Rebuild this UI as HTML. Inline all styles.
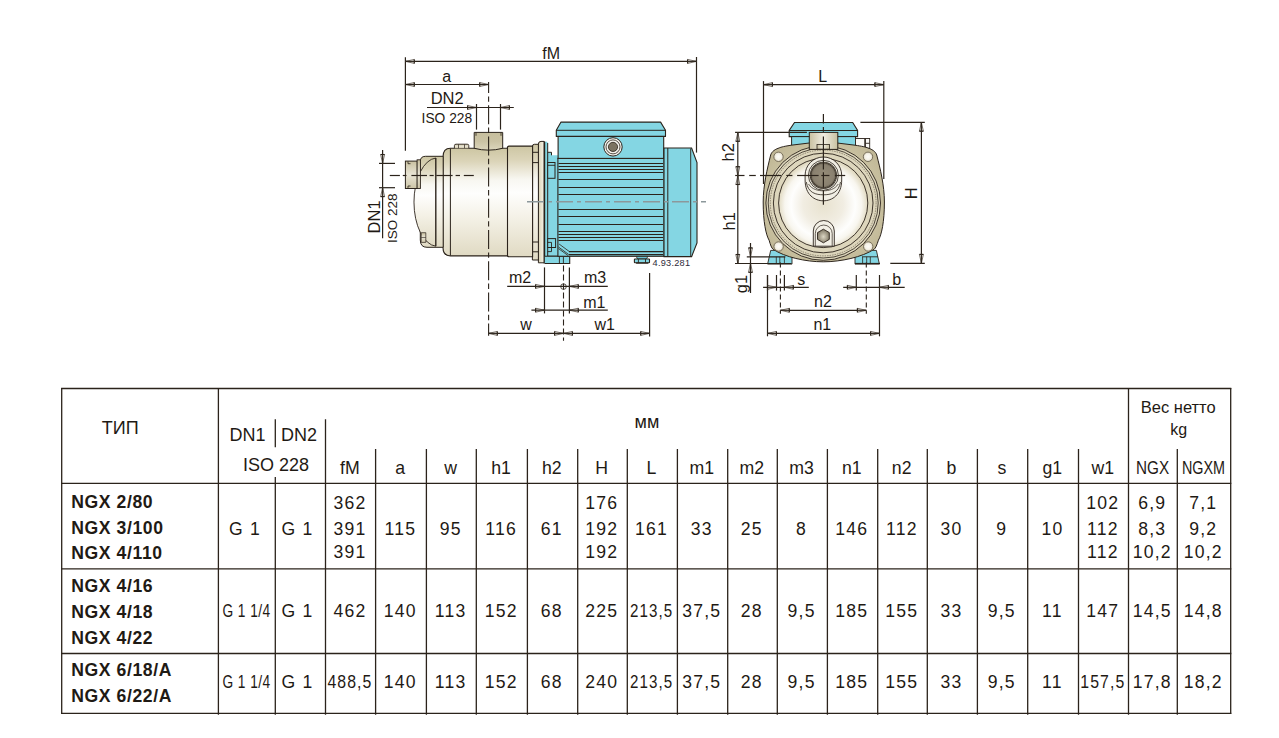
<!DOCTYPE html>
<html><head><meta charset="utf-8"><style>
html,body{margin:0;padding:0;background:#fff;}
body{width:1279px;height:738px;overflow:hidden;position:relative;}
svg{position:absolute;left:0;top:0;}
text{font-family:"Liberation Sans", sans-serif;}
</style></head><body>
<svg width="1279" height="738" viewBox="0 0 1279 738">
<defs>
<linearGradient id="bg" x1="0" y1="0" x2="0" y2="1">
<stop offset="0" stop-color="#cdc6a3"/><stop offset="0.12" stop-color="#dbd4b8"/><stop offset="0.3" stop-color="#f8f7f1"/><stop offset="0.42" stop-color="#fefefd"/>
<stop offset="0.65" stop-color="#f4f1e6"/><stop offset="1" stop-color="#e0dac3"/></linearGradient>
<linearGradient id="bgs" x1="0" y1="0" x2="0" y2="1">
<stop offset="0" stop-color="#c9c1a0"/><stop offset="0.5" stop-color="#e9e5d6"/><stop offset="1" stop-color="#cdc5a6"/></linearGradient>
<linearGradient id="bgh" x1="0" y1="0" x2="1" y2="0">
<stop offset="0" stop-color="#c8c0a0"/><stop offset="0.5" stop-color="#f0ede2"/><stop offset="1" stop-color="#c8c0a0"/></linearGradient>
<radialGradient id="disc" cx="0.5" cy="0.52" r="0.5">
<stop offset="0" stop-color="#e8e2cf"/><stop offset="0.45" stop-color="#f1ede2"/><stop offset="0.72" stop-color="#fefefd"/><stop offset="0.86" stop-color="#f8f6ef"/><stop offset="1" stop-color="#e2dbc3"/></radialGradient>
<radialGradient id="port" cx="0.5" cy="0.5" r="0.5">
<stop offset="0" stop-color="#958c78"/><stop offset="0.8" stop-color="#8a8170"/><stop offset="1" stop-color="#6a6252"/></radialGradient>
<radialGradient id="nut" cx="0.5" cy="0.55" r="0.55">
<stop offset="0" stop-color="#dcd6c4"/><stop offset="1" stop-color="#7d7562"/></radialGradient>
<radialGradient id="hole" cx="0.5" cy="0.5" r="0.5">
<stop offset="0" stop-color="#fdfcf8"/><stop offset="0.6" stop-color="#f5f2e8"/><stop offset="1" stop-color="#ddd6c0"/></radialGradient>
<linearGradient id="r2" x1="0" y1="0" x2="1" y2="0">
<stop offset="0" stop-color="#d9d2b6"/><stop offset="1" stop-color="#f7f4e8"/></linearGradient>
<linearGradient id="opg" x1="0" y1="0" x2="0" y2="1">
<stop offset="0" stop-color="#c6be9d"/><stop offset="0.5" stop-color="#cbc3a4"/><stop offset="1" stop-color="#dcd6bd"/></linearGradient>
<radialGradient id="flg" cx="0.5" cy="0.5" r="0.6">
<stop offset="0.7" stop-color="#cbc3a3"/><stop offset="1" stop-color="#bfb694"/></radialGradient>
</defs>
<path d="M544.7 263.5 V143 Q544.7 141.4 546.2 141.4 Q547.7 141.4 547.7 143 V152.3 H551.5 V155.3 H558.5 V263.5 Z" fill="#84d6e3"/>
<path d="M547.7 143 V256.2 H569.7 M547.7 152.3 H551.5 V155.3" fill="none" stroke="#2b231b" stroke-width="1"/>
<rect x="547.7" y="162.5" width="7.3" height="15.8" fill="#84d6e3" stroke="#2b231b" stroke-width="1"/>
<line x1="547.7" y1="165.3" x2="555" y2="165.3" stroke="#2b231b" stroke-width="0.9"/>
<rect x="547.7" y="238.6" width="7.9" height="8.9" fill="#84d6e3" stroke="#2b231b" stroke-width="1"/>
<path d="M547.7 242.4 H551.5 V251.6 H547.7" fill="none" stroke="#2b231b" stroke-width="0.9"/>
<rect x="543.6" y="141.4" width="1.6" height="122.1" fill="#2b231b"/>
<path d="M544.7 256.2 H569.7 V263.5 H544.7" fill="#84d6e3" stroke="#2b231b" stroke-width="1.1"/>
<line x1="559.4" y1="256.2" x2="559.4" y2="263.5" stroke="#2b231b" stroke-width="0.9"/>
<line x1="563.4" y1="256.2" x2="563.4" y2="263.5" stroke="#2b231b" stroke-width="0.9"/>
<rect x="557.9" y="158.4" width="106.2" height="97.9" fill="#84d6e3" stroke="#2b231b" stroke-width="1.1"/>
<line x1="558.5" y1="163.5" x2="663.2" y2="163.5" stroke="#2b231b" stroke-width="1.2"/>
<line x1="558.5" y1="166.5" x2="663.2" y2="166.5" stroke="#2b231b" stroke-width="1.2"/>
<line x1="558.5" y1="169.5" x2="663.2" y2="169.5" stroke="#2b231b" stroke-width="1.2"/>
<line x1="558.5" y1="172.5" x2="663.2" y2="172.5" stroke="#2b231b" stroke-width="1.2"/>
<line x1="558.5" y1="179.5" x2="663.2" y2="179.5" stroke="#2b231b" stroke-width="1.2"/>
<line x1="558.5" y1="187.5" x2="663.2" y2="187.5" stroke="#2b231b" stroke-width="1.2"/>
<line x1="558.5" y1="194.5" x2="663.2" y2="194.5" stroke="#2b231b" stroke-width="1.2"/>
<line x1="558.5" y1="209.5" x2="663.2" y2="209.5" stroke="#2b231b" stroke-width="1.2"/>
<line x1="558.5" y1="216.5" x2="663.2" y2="216.5" stroke="#2b231b" stroke-width="1.2"/>
<line x1="558.5" y1="224.5" x2="663.2" y2="224.5" stroke="#2b231b" stroke-width="1.2"/>
<line x1="558.5" y1="231.5" x2="663.2" y2="231.5" stroke="#2b231b" stroke-width="1.2"/>
<line x1="558.5" y1="234.5" x2="663.2" y2="234.5" stroke="#2b231b" stroke-width="1.2"/>
<line x1="558.5" y1="237.5" x2="663.2" y2="237.5" stroke="#2b231b" stroke-width="1.2"/>
<line x1="558.5" y1="240.5" x2="663.2" y2="240.5" stroke="#2b231b" stroke-width="1.2"/>
<line x1="569" y1="251.6" x2="663.2" y2="251.6" stroke="#2b231b" stroke-width="1.2"/>
<line x1="569" y1="254.6" x2="663.2" y2="254.6" stroke="#2b231b" stroke-width="1.2"/>
<path d="M559.1 244 L569.4 251.6 M558.5 247 L568.8 254.6 M558.5 248.6 L568.3 255.7" stroke="#2b231b" stroke-width="0.8" fill="none"/>
<rect x="558.1" y="136.4" width="105.6" height="22" fill="#84d6e3" stroke="#2b231b" stroke-width="1.1"/>
<path d="M561 122.1 H660.6 L665.5 130.3 V136.4 H556.3 V130.3 Z" fill="#84d6e3" stroke="#2b231b" stroke-width="1.1" stroke-linejoin="round"/>
<line x1="556.3" y1="130.3" x2="665.5" y2="130.3" stroke="#2b231b" stroke-width="1.0"/>
<circle cx="613" cy="146.9" r="9.2" fill="#f4f2ec" stroke="#2b231b" stroke-width="1"/>
<circle cx="613" cy="146.9" r="7" fill="#f4f2ec" stroke="#2b231b" stroke-width="0.8"/>
<circle cx="613" cy="146.9" r="4.6" fill="#7b7361" stroke="#2b231b" stroke-width="0.8"/>
<path d="M664 148 H691.6 L697 162.5 V243 L691.6 256.6 H664 Z" fill="#84d6e3" stroke="#2b231b" stroke-width="1.1"/>
<line x1="667.8" y1="148" x2="667.8" y2="256.6" stroke="#2b231b" stroke-width="1.0"/>
<line x1="690.7" y1="148.5" x2="690.7" y2="256.2" stroke="#2b231b" stroke-width="0.9"/>
<path d="M636.3 256.4 H647.8 L646.5 259 H637.5 Z" fill="#6cc3d3" stroke="#2b231b" stroke-width="0.8"/>
<rect x="634.4" y="259" width="15.1" height="3.8" rx="0.6" fill="#84d6e3" stroke="#2b231b" stroke-width="1.1"/>
<line x1="638.4" y1="259" x2="638.4" y2="262.8" stroke="#2b231b" stroke-width="0.9"/>
<line x1="645.5" y1="259" x2="645.5" y2="262.8" stroke="#2b231b" stroke-width="0.9"/>
<rect x="636.1" y="262.5" width="12.2" height="1.2" fill="#2b231b"/>
<text x="671.4" y="266.0" text-anchor="middle" style="font-size:9.2px;letter-spacing:0.25px" fill="#2e2a3a">4.93.281</text>
<path d="M538.4 262.8 V144 Q538.4 141.4 541 141.4 H544 V262.8 Z" fill="url(#r2)" stroke="#2b231b" stroke-width="1"/>
<path d="M532.4 260 V146.4 Q532.4 144.3 534.4 144.3 H538.4 V260 Z" fill="url(#bg)" stroke="#2b231b" stroke-width="1"/>
<line x1="532.6" y1="152.3" x2="538.4" y2="152.3" stroke="#2b231b" stroke-width="1.0"/>
<line x1="532.6" y1="162.6" x2="538.4" y2="162.6" stroke="#2b231b" stroke-width="1.0"/>
<line x1="532.6" y1="242" x2="538.4" y2="242" stroke="#2b231b" stroke-width="1.0"/>
<line x1="532.6" y1="251.8" x2="538.4" y2="251.8" stroke="#2b231b" stroke-width="1.0"/>
<path d="M509 146.1 H532.6 V256.8 H509 Q507.3 256.8 507.3 254.5 V148.5 Q507.3 146.1 509 146.1 Z" fill="url(#bg)" stroke="#2b231b" stroke-width="1.1"/>
<path d="M450.4 148.3 H507.5 V255.9 H450.4 Q443 255.9 443 247.5 V157 Q443 148.3 450.4 148.3 Z" fill="url(#bg)" stroke="#2b231b" stroke-width="1.1"/>
<line x1="450.4" y1="148.6" x2="450.4" y2="255.6" stroke="#2b231b" stroke-width="1.0"/>
<path d="M474.2 132.4 H502.7 V148.3 Q488.5 152 474.2 148.3 Z" fill="url(#opg)" stroke="#2b231b" stroke-width="1"/>
<path d="M476 132.8 v3 M501 132.8 v3" stroke="#2b231b" stroke-width="0.8"/>
<path d="M454.4 148.3 V145.6 Q454.4 144.2 456 144.2 H467.2 Q468.8 144.2 468.8 145.6 V148.3" fill="url(#bgs)" stroke="#2b231b" stroke-width="0.9"/>
<line x1="458.5" y1="144.4" x2="458.5" y2="148.2" stroke="#2b231b" stroke-width="0.7"/>
<line x1="464.5" y1="144.4" x2="464.5" y2="148.2" stroke="#2b231b" stroke-width="0.7"/>
<path d="M443.2 156.3 H425.5 Q420.3 156.3 420.3 161.5 V240 Q420.3 247.3 427 247.3 H443.2 Z" fill="url(#bg)" stroke="#2b231b" stroke-width="1"/>
<path d="M435.8 158 A23.4 44.2 0 0 0 435.8 246.2 Z" fill="url(#bg)" stroke="#2b231b" stroke-width="0.9" stroke-linejoin="round"/>
<line x1="435.8" y1="158" x2="435.8" y2="246.2" stroke="#2b231b" stroke-width="1.0"/>
<path d="M421.2 232.7 h4.6 v9.7 h-4.6 z" fill="url(#bgs)" stroke="#2b231b" stroke-width="0.7"/>
<line x1="421.2" y1="237.5" x2="425.8" y2="237.5" stroke="#2b231b" stroke-width="0.6"/>
<rect x="405.4" y="161.1" width="11.9" height="27.4" fill="url(#bgs)" stroke="#2b231b" stroke-width="1"/>
<rect x="417.1" y="159.8" width="3.3" height="28.7" fill="url(#bgs)" stroke="#2b231b" stroke-width="0.9"/>
<path d="M408 161.5 v2.2 h2.5 M408 188 v-2 h2.5" stroke="#2b231b" stroke-width="0.8" fill="none"/>
<line x1="527" y1="201.8" x2="706" y2="201.8" stroke="#8c989b" stroke-width="1.6" stroke-dasharray="17 4 4 4"/>
<line x1="389.8" y1="175.5" x2="399.9" y2="175.5" stroke="#2b231b" stroke-width="1.2"/>
<line x1="402.8" y1="175.5" x2="406.5" y2="175.5" stroke="#2b231b" stroke-width="1.2"/>
<line x1="411.4" y1="175.5" x2="427" y2="175.5" stroke="#2b231b" stroke-width="1.2"/>
<line x1="429.6" y1="175.5" x2="433.7" y2="175.5" stroke="#2b231b" stroke-width="1.2"/>
<line x1="436.3" y1="175.5" x2="452.6" y2="175.5" stroke="#2b231b" stroke-width="1.2"/>
<line x1="455.6" y1="175.5" x2="460" y2="175.5" stroke="#2b231b" stroke-width="1.2"/>
<line x1="463.8" y1="175.5" x2="473.8" y2="175.5" stroke="#2b231b" stroke-width="1.2"/>
<line x1="488.6" y1="82" x2="488.6" y2="335.8" stroke="#2b231b" stroke-width="1.1" stroke-dasharray="19 3.4 5.4 3.4" stroke-dashoffset="8"/>
<line x1="405.4" y1="57.2" x2="405.4" y2="150.7" stroke="#2b231b" stroke-width="1.2"/>
<line x1="696.5" y1="57" x2="696.5" y2="152.6" stroke="#2b231b" stroke-width="1.2"/>
<line x1="405.4" y1="61.4" x2="696.5" y2="61.4" stroke="#2b231b" stroke-width="1.2"/>
<polygon points="405.4,61.4 414.3,59.4 414.3,63.4" fill="#e4e1dc" stroke="#4a4238" stroke-width="0.7" stroke-linejoin="miter"/>
<line x1="414.3" y1="59.4" x2="414.3" y2="63.4" stroke="#2b231b" stroke-width="1.1"/>
<line x1="405.4" y1="61.4" x2="414.29999999999995" y2="61.4" stroke="#2b231b" stroke-width="1.1"/>
<polygon points="696.5,61.4 687.6,59.4 687.6,63.4" fill="#e4e1dc" stroke="#4a4238" stroke-width="0.7" stroke-linejoin="miter"/>
<line x1="687.6" y1="59.4" x2="687.6" y2="63.4" stroke="#2b231b" stroke-width="1.1"/>
<line x1="696.5" y1="61.4" x2="687.6" y2="61.4" stroke="#2b231b" stroke-width="1.1"/>
<text x="551.2" y="58.5" text-anchor="middle" style="font-size:16px;letter-spacing:0px" fill="#1f1a14">fM</text>
<line x1="405.4" y1="84.5" x2="488.6" y2="84.5" stroke="#2b231b" stroke-width="1.2"/>
<polygon points="405.4,84.5 414.3,82.5 414.3,86.5" fill="#e4e1dc" stroke="#4a4238" stroke-width="0.7" stroke-linejoin="miter"/>
<line x1="414.3" y1="82.5" x2="414.3" y2="86.5" stroke="#2b231b" stroke-width="1.1"/>
<line x1="405.4" y1="84.5" x2="414.29999999999995" y2="84.5" stroke="#2b231b" stroke-width="1.1"/>
<polygon points="488.6,84.5 479.7,82.5 479.7,86.5" fill="#e4e1dc" stroke="#4a4238" stroke-width="0.7" stroke-linejoin="miter"/>
<line x1="479.7" y1="82.5" x2="479.7" y2="86.5" stroke="#2b231b" stroke-width="1.1"/>
<line x1="488.6" y1="84.5" x2="479.70000000000005" y2="84.5" stroke="#2b231b" stroke-width="1.1"/>
<text x="446.7" y="81.5" text-anchor="middle" style="font-size:16px;letter-spacing:0px" fill="#1f1a14">a</text>
<line x1="427" y1="107.5" x2="513.8" y2="107.5" stroke="#2b231b" stroke-width="1.2"/>
<polygon points="476.5,107.5 467.6,105.5 467.6,109.5" fill="#e4e1dc" stroke="#4a4238" stroke-width="0.7" stroke-linejoin="miter"/>
<line x1="467.6" y1="105.5" x2="467.6" y2="109.5" stroke="#2b231b" stroke-width="1.1"/>
<line x1="476.5" y1="107.5" x2="467.6" y2="107.5" stroke="#2b231b" stroke-width="1.1"/>
<polygon points="500.5,107.5 509.4,105.5 509.4,109.5" fill="#e4e1dc" stroke="#4a4238" stroke-width="0.7" stroke-linejoin="miter"/>
<line x1="509.4" y1="105.5" x2="509.4" y2="109.5" stroke="#2b231b" stroke-width="1.1"/>
<line x1="500.5" y1="107.5" x2="509.4" y2="107.5" stroke="#2b231b" stroke-width="1.1"/>
<line x1="476.5" y1="104" x2="476.5" y2="129.6" stroke="#2b231b" stroke-width="1.2"/>
<line x1="500.5" y1="104" x2="500.5" y2="129.6" stroke="#2b231b" stroke-width="1.2"/>
<text x="447.2" y="104.4" text-anchor="middle" style="font-size:16.5px;letter-spacing:0px" fill="#1f1a14">DN2</text>
<text x="446.9" y="123.2" text-anchor="middle" style="font-size:13.8px;letter-spacing:0px" fill="#1f1a14">ISO 228</text>
<line x1="382.6" y1="150.1" x2="382.6" y2="238.3" stroke="#2b231b" stroke-width="1.2"/>
<line x1="379" y1="163.4" x2="395" y2="163.4" stroke="#2b231b" stroke-width="1.2"/>
<line x1="379" y1="187.7" x2="395" y2="187.7" stroke="#2b231b" stroke-width="1.2"/>
<polygon points="382.6,163.4 380.6,154.5 384.6,154.5" fill="#e4e1dc" stroke="#4a4238" stroke-width="0.7" stroke-linejoin="miter"/>
<line x1="380.6" y1="154.5" x2="384.6" y2="154.5" stroke="#2b231b" stroke-width="1.1"/>
<line x1="382.6" y1="163.4" x2="382.6" y2="154.5" stroke="#2b231b" stroke-width="1.1"/>
<polygon points="382.6,187.7 380.6,196.6 384.6,196.6" fill="#e4e1dc" stroke="#4a4238" stroke-width="0.7" stroke-linejoin="miter"/>
<line x1="380.6" y1="196.6" x2="384.6" y2="196.6" stroke="#2b231b" stroke-width="1.1"/>
<line x1="382.6" y1="187.7" x2="382.6" y2="196.6" stroke="#2b231b" stroke-width="1.1"/>
<text x="379.6" y="216.9" text-anchor="middle" style="font-size:16.5px;letter-spacing:0px" fill="#1f1a14" transform="rotate(-90 379.6 216.9)">DN1</text>
<text x="397.4" y="218.3" text-anchor="middle" style="font-size:13.5px;letter-spacing:0px" fill="#1f1a14" transform="rotate(-90 397.4 218.3)">ISO 228</text>
<line x1="544.5" y1="267.4" x2="544.5" y2="313.4" stroke="#2b231b" stroke-width="1.2"/>
<line x1="569.4" y1="267.4" x2="569.4" y2="313.4" stroke="#2b231b" stroke-width="1.2"/>
<line x1="563.5" y1="265.5" x2="563.5" y2="340.8" stroke="#2b231b" stroke-width="1.1" stroke-dasharray="6 3"/>
<line x1="649.6" y1="273" x2="649.6" y2="336.6" stroke="#2b231b" stroke-width="1.2"/>
<line x1="507.2" y1="286.4" x2="607.8" y2="286.4" stroke="#2b231b" stroke-width="1.2"/>
<polygon points="544.5,286.4 535.6,284.4 535.6,288.4" fill="#e4e1dc" stroke="#4a4238" stroke-width="0.7" stroke-linejoin="miter"/>
<line x1="535.6" y1="284.4" x2="535.6" y2="288.4" stroke="#2b231b" stroke-width="1.1"/>
<line x1="544.5" y1="286.4" x2="535.6" y2="286.4" stroke="#2b231b" stroke-width="1.1"/>
<polygon points="569.4,286.4 578.3,284.4 578.3,288.4" fill="#e4e1dc" stroke="#4a4238" stroke-width="0.7" stroke-linejoin="miter"/>
<line x1="578.3" y1="284.4" x2="578.3" y2="288.4" stroke="#2b231b" stroke-width="1.1"/>
<line x1="569.4" y1="286.4" x2="578.3" y2="286.4" stroke="#2b231b" stroke-width="1.1"/>
<circle cx="563.5" cy="286.6" r="2.8" fill="none" stroke="#2b231b" stroke-width="0.8"/>
<line x1="531.4" y1="310.2" x2="607.8" y2="310.2" stroke="#2b231b" stroke-width="1.2"/>
<polygon points="544.5,310.2 535.6,308.2 535.6,312.2" fill="#e4e1dc" stroke="#4a4238" stroke-width="0.7" stroke-linejoin="miter"/>
<line x1="535.6" y1="308.2" x2="535.6" y2="312.2" stroke="#2b231b" stroke-width="1.1"/>
<line x1="544.5" y1="310.2" x2="535.6" y2="310.2" stroke="#2b231b" stroke-width="1.1"/>
<polygon points="569.4,310.2 578.3,308.2 578.3,312.2" fill="#e4e1dc" stroke="#4a4238" stroke-width="0.7" stroke-linejoin="miter"/>
<line x1="578.3" y1="308.2" x2="578.3" y2="312.2" stroke="#2b231b" stroke-width="1.1"/>
<line x1="569.4" y1="310.2" x2="578.3" y2="310.2" stroke="#2b231b" stroke-width="1.1"/>
<line x1="488.4" y1="333.4" x2="649.6" y2="333.4" stroke="#2b231b" stroke-width="1.2"/>
<polygon points="488.4,333.4 497.3,331.4 497.3,335.4" fill="#e4e1dc" stroke="#4a4238" stroke-width="0.7" stroke-linejoin="miter"/>
<line x1="497.3" y1="331.4" x2="497.3" y2="335.4" stroke="#2b231b" stroke-width="1.1"/>
<line x1="488.4" y1="333.4" x2="497.29999999999995" y2="333.4" stroke="#2b231b" stroke-width="1.1"/>
<polygon points="563.5,333.4 554.6,331.4 554.6,335.4" fill="#e4e1dc" stroke="#4a4238" stroke-width="0.7" stroke-linejoin="miter"/>
<line x1="554.6" y1="331.4" x2="554.6" y2="335.4" stroke="#2b231b" stroke-width="1.1"/>
<line x1="563.5" y1="333.4" x2="554.6" y2="333.4" stroke="#2b231b" stroke-width="1.1"/>
<polygon points="563.5,333.4 572.4,331.4 572.4,335.4" fill="#e4e1dc" stroke="#4a4238" stroke-width="0.7" stroke-linejoin="miter"/>
<line x1="572.4" y1="331.4" x2="572.4" y2="335.4" stroke="#2b231b" stroke-width="1.1"/>
<line x1="563.5" y1="333.4" x2="572.4" y2="333.4" stroke="#2b231b" stroke-width="1.1"/>
<polygon points="649.6,333.4 640.7,331.4 640.7,335.4" fill="#e4e1dc" stroke="#4a4238" stroke-width="0.7" stroke-linejoin="miter"/>
<line x1="640.7" y1="331.4" x2="640.7" y2="335.4" stroke="#2b231b" stroke-width="1.1"/>
<line x1="649.6" y1="333.4" x2="640.7" y2="333.4" stroke="#2b231b" stroke-width="1.1"/>
<text x="520" y="283.1" text-anchor="middle" style="font-size:16px;letter-spacing:0px" fill="#1f1a14">m2</text>
<text x="595" y="283.1" text-anchor="middle" style="font-size:16px;letter-spacing:0px" fill="#1f1a14">m3</text>
<text x="594.3" y="307.5" text-anchor="middle" style="font-size:16px;letter-spacing:0px" fill="#1f1a14">m1</text>
<text x="526.1" y="329.9" text-anchor="middle" style="font-size:16px;letter-spacing:0px" fill="#1f1a14">w</text>
<text x="604.8" y="329.9" text-anchor="middle" style="font-size:16px;letter-spacing:0px" fill="#1f1a14">w1</text>
<path d="M794.5 122.5 H852.7 L857.6 130.5 V136.6 H789.2 V130.5 Z" fill="#84d6e3" stroke="#2b231b" stroke-width="1.1"/>
<line x1="789.2" y1="130.5" x2="857.6" y2="130.5" stroke="#2b231b" stroke-width="1.1"/>
<rect x="791.6" y="136.6" width="63.9" height="10" fill="#84d6e3" stroke="#2b231b" stroke-width="1"/>
<rect x="855.5" y="138.5" width="14.2" height="9.9" fill="#fbfaf7" stroke="#2b231b" stroke-width="0.9"/>
<rect x="864.3" y="138.5" width="1.6" height="9.9" fill="#2b231b"/>
<line x1="865.5" y1="143.3" x2="869.7" y2="143.3" stroke="#2b231b" stroke-width="0.9"/>
<path d="M770.7 250.4 H792 V264.1 H767.6 Z" fill="#84d6e3" stroke="#2b231b" stroke-width="0.9"/>
<path d="M855 250.4 H876.4 L879.4 264.1 H855 Z" fill="#84d6e3" stroke="#2b231b" stroke-width="0.9"/>
<line x1="776.3" y1="256.8" x2="776.3" y2="263.8" stroke="#2b231b" stroke-width="0.8"/>
<line x1="779.8" y1="256.8" x2="779.8" y2="263.8" stroke="#2b231b" stroke-width="0.8"/>
<line x1="784.4" y1="256.8" x2="784.4" y2="263.8" stroke="#2b231b" stroke-width="0.8"/>
<line x1="862.6" y1="256.8" x2="862.6" y2="263.8" stroke="#2b231b" stroke-width="0.8"/>
<line x1="866.7" y1="256.8" x2="866.7" y2="263.8" stroke="#2b231b" stroke-width="0.8"/>
<line x1="870.3" y1="256.8" x2="870.3" y2="263.8" stroke="#2b231b" stroke-width="0.8"/>
<line x1="862" y1="256.8" x2="878" y2="256.8" stroke="#2b231b" stroke-width="0.9"/>
<path d="M823.2 141.3 L791.3 145.2 C785 146.2 781 147 779 148 C773 150 771 153 770.4 156.1 C767.5 168 763.2 185 763.2 202 C763.2 222 766 235 769.1 240.2 C770.5 245 771.5 248 773.2 249.4 C785 257 805 261.8 823.2 261.8 C841.4 261.8 862 257 874 249.4 C875.7 248 876.9 245 878.4 240.2 C881.5 235 884.4 222 884.4 202 C884.4 185 880 168 877 156.1 C876.4 153 874.2 150 868 148 C865.8 147 861.6 146.2 855.1 145.2 Z" fill="url(#flg)" stroke="#2b231b" stroke-width="1"/>
<circle cx="823.2" cy="203" r="57.3" fill="#ddd6bc" stroke="#2b231b" stroke-width="0.9"/>
<circle cx="823.2" cy="203" r="55" fill="none" stroke="#2b231b" stroke-width="0.8"/>
<circle cx="823.2" cy="203" r="52.9" fill="none" stroke="#5a5040" stroke-width="0.6" stroke-dasharray="1.5 1"/>
<circle cx="823.2" cy="203" r="49.8" fill="none" stroke="#2b231b" stroke-width="0.9"/>
<circle cx="823.2" cy="203" r="44.6" fill="url(#disc)" stroke="#2b231b" stroke-width="0.9"/>
<circle cx="778.5" cy="156.8" r="4.7" fill="url(#hole)" stroke="#6f6753" stroke-width="0.9"/>
<circle cx="868" cy="156.8" r="4.7" fill="url(#hole)" stroke="#6f6753" stroke-width="0.9"/>
<circle cx="778.6" cy="246.5" r="4.7" fill="url(#hole)" stroke="#6f6753" stroke-width="0.9"/>
<circle cx="868.2" cy="246.5" r="4.7" fill="url(#hole)" stroke="#6f6753" stroke-width="0.9"/>
<rect x="809.3" y="132.4" width="28.5" height="17" fill="url(#bgh)" stroke="#2b231b" stroke-width="1"/>
<rect x="817" y="144.5" width="12.5" height="4.6" fill="url(#bgh)" stroke="#2b231b" stroke-width="0.8"/>
<path d="M805.1 175.3 A18.3 18.3 0 0 1 841.7 175.3 V180 C841.7 195 832 200.8 823.4 200.8 C814.8 200.8 805.1 195 805.1 180 Z" fill="#f1eee4" stroke="#2b231b" stroke-width="0.9"/>
<path d="M806.3 182 C808 193 816 194.8 823.4 194.8 C830.8 194.8 838.8 193 840.5 182" fill="none" stroke="#2b231b" stroke-width="0.8"/>
<path d="M808.5 184 C812 189.5 818 190.8 823.4 190.8 C828.8 190.8 834.8 189.5 838.3 184" fill="none" stroke="#2b231b" stroke-width="0.7"/>
<circle cx="823.4" cy="175.3" r="15" fill="#efece2" stroke="#2b231b" stroke-width="0.8"/>
<circle cx="823.4" cy="175.3" r="12.8" fill="url(#port)" stroke="#3a332a" stroke-width="1.7"/>
<circle cx="823.4" cy="175.3" r="12.8" fill="none" stroke="#8a8070" stroke-width="0.8" stroke-dasharray="1 1"/>
<path d="M813.3 246.2 V231 A10.5 10.5 0 0 1 834.3 231 V246.2 Z" fill="#f3f0e6" stroke="#2b231b" stroke-width="0.9"/>
<path d="M815.3 246.2 V233.5 A8.45 8.45 0 0 1 832.2 233.5 V246.2" fill="none" stroke="#2b231b" stroke-width="0.7"/>
<polygon points="823.4,229.2 829.3,232.6 829.3,239.4 823.4,242.8 817.5,239.4 817.5,232.6" fill="url(#nut)" stroke="#2b231b" stroke-width="0.9"/>
<line x1="823.4" y1="114.1" x2="823.4" y2="123.6" stroke="#2b231b" stroke-width="1.2"/>
<line x1="823.4" y1="127" x2="823.4" y2="131.7" stroke="#2b231b" stroke-width="1.2"/>
<line x1="823.4" y1="136.4" x2="823.4" y2="169.5" stroke="#2b231b" stroke-width="1.2"/>
<line x1="823.4" y1="172.3" x2="823.4" y2="187.5" stroke="#2b231b" stroke-width="1.2"/>
<line x1="823.4" y1="190.3" x2="823.4" y2="204.8" stroke="#2b231b" stroke-width="1.2"/>
<line x1="735.2" y1="175.5" x2="744.5" y2="175.5" stroke="#2b231b" stroke-width="1.2"/>
<line x1="749.2" y1="175.5" x2="755.8" y2="175.5" stroke="#2b231b" stroke-width="1.2"/>
<line x1="760" y1="175.5" x2="781.1" y2="175.5" stroke="#2b231b" stroke-width="1.2"/>
<line x1="786.3" y1="175.5" x2="792.4" y2="175.5" stroke="#2b231b" stroke-width="1.2"/>
<line x1="797.1" y1="175.5" x2="818.6" y2="175.5" stroke="#2b231b" stroke-width="1.2"/>
<line x1="821.3" y1="175.5" x2="829.4" y2="175.5" stroke="#2b231b" stroke-width="1.2"/>
<line x1="834.9" y1="175.5" x2="845.2" y2="175.5" stroke="#2b231b" stroke-width="1.2"/>
<line x1="763.5" y1="81.1" x2="763.5" y2="184" stroke="#2b231b" stroke-width="1.2"/>
<line x1="883.8" y1="81.1" x2="883.8" y2="179" stroke="#2b231b" stroke-width="1.2"/>
<line x1="763.5" y1="84.6" x2="883.8" y2="84.6" stroke="#2b231b" stroke-width="1.2"/>
<polygon points="763.5,84.6 772.4,82.6 772.4,86.6" fill="#e4e1dc" stroke="#4a4238" stroke-width="0.7" stroke-linejoin="miter"/>
<line x1="772.4" y1="82.6" x2="772.4" y2="86.6" stroke="#2b231b" stroke-width="1.1"/>
<line x1="763.5" y1="84.6" x2="772.4" y2="84.6" stroke="#2b231b" stroke-width="1.1"/>
<polygon points="883.8,84.6 874.9,82.6 874.9,86.6" fill="#e4e1dc" stroke="#4a4238" stroke-width="0.7" stroke-linejoin="miter"/>
<line x1="874.9" y1="82.6" x2="874.9" y2="86.6" stroke="#2b231b" stroke-width="1.1"/>
<line x1="883.8" y1="84.6" x2="874.9" y2="84.6" stroke="#2b231b" stroke-width="1.1"/>
<text x="822.6" y="81.8" text-anchor="middle" style="font-size:16px;letter-spacing:0px" fill="#1f1a14">L</text>
<line x1="860.4" y1="122.3" x2="924.8" y2="122.3" stroke="#2b231b" stroke-width="1.2"/>
<line x1="890.3" y1="263.3" x2="924.8" y2="263.3" stroke="#2b231b" stroke-width="1.2"/>
<line x1="921.4" y1="122.1" x2="921.4" y2="263.3" stroke="#2b231b" stroke-width="1.2"/>
<polygon points="921.4,122.3 919.4,131.2 923.4,131.2" fill="#e4e1dc" stroke="#4a4238" stroke-width="0.7" stroke-linejoin="miter"/>
<line x1="919.4" y1="131.2" x2="923.4" y2="131.2" stroke="#2b231b" stroke-width="1.1"/>
<line x1="921.4" y1="122.3" x2="921.4" y2="131.2" stroke="#2b231b" stroke-width="1.1"/>
<polygon points="921.4,263.3 919.4,254.4 923.4,254.4" fill="#e4e1dc" stroke="#4a4238" stroke-width="0.7" stroke-linejoin="miter"/>
<line x1="919.4" y1="254.4" x2="923.4" y2="254.4" stroke="#2b231b" stroke-width="1.1"/>
<line x1="921.4" y1="263.3" x2="921.4" y2="254.4" stroke="#2b231b" stroke-width="1.1"/>
<text x="917.2" y="193.3" text-anchor="middle" style="font-size:16.5px;letter-spacing:0px" fill="#1f1a14" transform="rotate(-90 917.2 193.3)">H</text>
<line x1="735.1" y1="132.4" x2="806.9" y2="132.4" stroke="#2b231b" stroke-width="1.2"/>
<line x1="737.8" y1="132.4" x2="737.8" y2="263.4" stroke="#2b231b" stroke-width="1.2"/>
<polygon points="737.8,132.4 735.8,141.3 739.8,141.3" fill="#e4e1dc" stroke="#4a4238" stroke-width="0.7" stroke-linejoin="miter"/>
<line x1="735.8" y1="141.3" x2="739.8" y2="141.3" stroke="#2b231b" stroke-width="1.1"/>
<line x1="737.8" y1="132.4" x2="737.8" y2="141.3" stroke="#2b231b" stroke-width="1.1"/>
<polygon points="737.8,175.6 735.8,166.7 739.8,166.7" fill="#e4e1dc" stroke="#4a4238" stroke-width="0.7" stroke-linejoin="miter"/>
<line x1="735.8" y1="166.7" x2="739.8" y2="166.7" stroke="#2b231b" stroke-width="1.1"/>
<line x1="737.8" y1="175.6" x2="737.8" y2="166.7" stroke="#2b231b" stroke-width="1.1"/>
<polygon points="737.8,175.6 735.8,184.5 739.8,184.5" fill="#e4e1dc" stroke="#4a4238" stroke-width="0.7" stroke-linejoin="miter"/>
<line x1="735.8" y1="184.5" x2="739.8" y2="184.5" stroke="#2b231b" stroke-width="1.1"/>
<line x1="737.8" y1="175.6" x2="737.8" y2="184.5" stroke="#2b231b" stroke-width="1.1"/>
<polygon points="737.8,263.4 735.8,254.5 739.8,254.5" fill="#e4e1dc" stroke="#4a4238" stroke-width="0.7" stroke-linejoin="miter"/>
<line x1="735.8" y1="254.5" x2="739.8" y2="254.5" stroke="#2b231b" stroke-width="1.1"/>
<line x1="737.8" y1="263.4" x2="737.8" y2="254.49999999999997" stroke="#2b231b" stroke-width="1.1"/>
<line x1="735" y1="263.5" x2="791.5" y2="263.5" stroke="#2b231b" stroke-width="1.2"/>
<line x1="855" y1="263.5" x2="880" y2="263.5" stroke="#2b231b" stroke-width="1.2"/>
<text x="733.6" y="152.3" text-anchor="middle" style="font-size:16.5px;letter-spacing:0px" fill="#1f1a14" transform="rotate(-90 733.6 152.3)">h2</text>
<text x="734.6" y="221.3" text-anchor="middle" style="font-size:16.5px;letter-spacing:0px" fill="#1f1a14" transform="rotate(-90 734.6 221.3)">h1</text>
<line x1="750.5" y1="243" x2="750.5" y2="293" stroke="#2b231b" stroke-width="1.2"/>
<line x1="746.8" y1="256.8" x2="785.4" y2="256.8" stroke="#2b231b" stroke-width="1.2"/>
<polygon points="750.5,256.8 748.5,247.9 752.5,247.9" fill="#e4e1dc" stroke="#4a4238" stroke-width="0.7" stroke-linejoin="miter"/>
<line x1="748.5" y1="247.9" x2="752.5" y2="247.9" stroke="#2b231b" stroke-width="1.1"/>
<line x1="750.5" y1="256.8" x2="750.5" y2="247.9" stroke="#2b231b" stroke-width="1.1"/>
<polygon points="750.5,263.4 748.5,272.3 752.5,272.3" fill="#e4e1dc" stroke="#4a4238" stroke-width="0.7" stroke-linejoin="miter"/>
<line x1="748.5" y1="272.3" x2="752.5" y2="272.3" stroke="#2b231b" stroke-width="1.1"/>
<line x1="750.5" y1="263.4" x2="750.5" y2="272.29999999999995" stroke="#2b231b" stroke-width="1.1"/>
<text x="746.8" y="284" text-anchor="middle" style="font-size:16.5px;letter-spacing:0px" fill="#1f1a14" transform="rotate(-90 746.8 284)">g1</text>
<line x1="763.1" y1="287.3" x2="808.8" y2="287.3" stroke="#2b231b" stroke-width="1.2"/>
<line x1="843.2" y1="287.3" x2="904.7" y2="287.3" stroke="#2b231b" stroke-width="1.2"/>
<line x1="767.5" y1="275" x2="767.5" y2="290.6" stroke="#2b231b" stroke-width="1.2"/>
<line x1="776.5" y1="275" x2="776.5" y2="290.6" stroke="#2b231b" stroke-width="1.2"/>
<line x1="784.4" y1="275" x2="784.4" y2="290.6" stroke="#2b231b" stroke-width="1.2"/>
<line x1="780.4" y1="262.5" x2="780.4" y2="313.8" stroke="#2b231b" stroke-width="1.1" stroke-dasharray="5 3"/>
<line x1="866.3" y1="262.5" x2="866.3" y2="313.8" stroke="#2b231b" stroke-width="1.1" stroke-dasharray="5 3"/>
<line x1="856.3" y1="275" x2="856.3" y2="290.6" stroke="#2b231b" stroke-width="1.2"/>
<line x1="879.5" y1="275" x2="879.5" y2="336.3" stroke="#2b231b" stroke-width="1.2"/>
<line x1="767.5" y1="275" x2="767.5" y2="336.3" stroke="#2b231b" stroke-width="1.2"/>
<polygon points="776.5,287.3 767.6,285.3 767.6,289.3" fill="#e4e1dc" stroke="#4a4238" stroke-width="0.7" stroke-linejoin="miter"/>
<line x1="767.6" y1="285.3" x2="767.6" y2="289.3" stroke="#2b231b" stroke-width="1.1"/>
<line x1="776.5" y1="287.3" x2="767.6" y2="287.3" stroke="#2b231b" stroke-width="1.1"/>
<polygon points="784.4,287.3 793.3,285.3 793.3,289.3" fill="#e4e1dc" stroke="#4a4238" stroke-width="0.7" stroke-linejoin="miter"/>
<line x1="793.3" y1="285.3" x2="793.3" y2="289.3" stroke="#2b231b" stroke-width="1.1"/>
<line x1="784.4" y1="287.3" x2="793.3" y2="287.3" stroke="#2b231b" stroke-width="1.1"/>
<polygon points="856.3,287.3 847.4,285.3 847.4,289.3" fill="#e4e1dc" stroke="#4a4238" stroke-width="0.7" stroke-linejoin="miter"/>
<line x1="847.4" y1="285.3" x2="847.4" y2="289.3" stroke="#2b231b" stroke-width="1.1"/>
<line x1="856.3" y1="287.3" x2="847.4" y2="287.3" stroke="#2b231b" stroke-width="1.1"/>
<polygon points="879.5,287.3 888.4,285.3 888.4,289.3" fill="#e4e1dc" stroke="#4a4238" stroke-width="0.7" stroke-linejoin="miter"/>
<line x1="888.4" y1="285.3" x2="888.4" y2="289.3" stroke="#2b231b" stroke-width="1.1"/>
<line x1="879.5" y1="287.3" x2="888.4" y2="287.3" stroke="#2b231b" stroke-width="1.1"/>
<text x="801.2" y="284.7" text-anchor="middle" style="font-size:16px;letter-spacing:0px" fill="#1f1a14">s</text>
<text x="896.6" y="284.5" text-anchor="middle" style="font-size:16px;letter-spacing:0px" fill="#1f1a14">b</text>
<line x1="780.4" y1="310.3" x2="866.3" y2="310.3" stroke="#2b231b" stroke-width="1.2"/>
<polygon points="780.4,310.3 789.3,308.3 789.3,312.3" fill="#e4e1dc" stroke="#4a4238" stroke-width="0.7" stroke-linejoin="miter"/>
<line x1="789.3" y1="308.3" x2="789.3" y2="312.3" stroke="#2b231b" stroke-width="1.1"/>
<line x1="780.4" y1="310.3" x2="789.3" y2="310.3" stroke="#2b231b" stroke-width="1.1"/>
<polygon points="866.3,310.3 857.4,308.3 857.4,312.3" fill="#e4e1dc" stroke="#4a4238" stroke-width="0.7" stroke-linejoin="miter"/>
<line x1="857.4" y1="308.3" x2="857.4" y2="312.3" stroke="#2b231b" stroke-width="1.1"/>
<line x1="866.3" y1="310.3" x2="857.4" y2="310.3" stroke="#2b231b" stroke-width="1.1"/>
<line x1="767.5" y1="333.4" x2="879.5" y2="333.4" stroke="#2b231b" stroke-width="1.2"/>
<polygon points="767.5,333.4 776.4,331.4 776.4,335.4" fill="#e4e1dc" stroke="#4a4238" stroke-width="0.7" stroke-linejoin="miter"/>
<line x1="776.4" y1="331.4" x2="776.4" y2="335.4" stroke="#2b231b" stroke-width="1.1"/>
<line x1="767.5" y1="333.4" x2="776.4" y2="333.4" stroke="#2b231b" stroke-width="1.1"/>
<polygon points="879.5,333.4 870.6,331.4 870.6,335.4" fill="#e4e1dc" stroke="#4a4238" stroke-width="0.7" stroke-linejoin="miter"/>
<line x1="870.6" y1="331.4" x2="870.6" y2="335.4" stroke="#2b231b" stroke-width="1.1"/>
<line x1="879.5" y1="333.4" x2="870.6" y2="333.4" stroke="#2b231b" stroke-width="1.1"/>
<text x="823" y="307.2" text-anchor="middle" style="font-size:16px;letter-spacing:0px" fill="#1f1a14">n2</text>
<text x="822.3" y="330.4" text-anchor="middle" style="font-size:16px;letter-spacing:0px" fill="#1f1a14">n1</text>
<g id="table">
<line x1="61.1" y1="388.5" x2="1231.3" y2="388.5" stroke="#2b231b" stroke-width="1.3" />
<line x1="61.1" y1="483.3" x2="1231.3" y2="483.3" stroke="#2b231b" stroke-width="1.3" />
<line x1="61.1" y1="568.8" x2="1231.3" y2="568.8" stroke="#2b231b" stroke-width="1.3" />
<line x1="61.1" y1="653.5" x2="1231.3" y2="653.5" stroke="#2b231b" stroke-width="1.3" />
<line x1="61.1" y1="713.3" x2="1231.3" y2="713.3" stroke="#2b231b" stroke-width="1.3" />
<line x1="61.7" y1="387.9" x2="61.7" y2="713.9" stroke="#2b231b" stroke-width="1.3" />
<line x1="1230.7" y1="387.9" x2="1230.7" y2="713.9" stroke="#2b231b" stroke-width="1.3" />
<line x1="218.4" y1="388.5" x2="218.4" y2="714.8" stroke="#2b231b" stroke-width="1.3" />
<line x1="275.3" y1="419.3" x2="275.3" y2="447.3" stroke="#2b231b" stroke-width="1.3" />
<line x1="275.3" y1="477.0" x2="275.3" y2="714.8" stroke="#2b231b" stroke-width="1.3" />
<line x1="325.5" y1="419.3" x2="325.5" y2="714.8" stroke="#2b231b" stroke-width="1.3" />
<line x1="375.6" y1="449.1" x2="375.6" y2="714.8" stroke="#2b231b" stroke-width="1.3" />
<line x1="426.4" y1="449.1" x2="426.4" y2="714.8" stroke="#2b231b" stroke-width="1.3" />
<line x1="476.3" y1="449.1" x2="476.3" y2="714.8" stroke="#2b231b" stroke-width="1.3" />
<line x1="527.4" y1="449.1" x2="527.4" y2="714.8" stroke="#2b231b" stroke-width="1.3" />
<line x1="577.7" y1="449.1" x2="577.7" y2="714.8" stroke="#2b231b" stroke-width="1.3" />
<line x1="627.3" y1="449.1" x2="627.3" y2="714.8" stroke="#2b231b" stroke-width="1.3" />
<line x1="677.4" y1="449.1" x2="677.4" y2="714.8" stroke="#2b231b" stroke-width="1.3" />
<line x1="727.7" y1="449.1" x2="727.7" y2="714.8" stroke="#2b231b" stroke-width="1.3" />
<line x1="777.3" y1="449.1" x2="777.3" y2="714.8" stroke="#2b231b" stroke-width="1.3" />
<line x1="827.4" y1="449.1" x2="827.4" y2="714.8" stroke="#2b231b" stroke-width="1.3" />
<line x1="877.7" y1="449.1" x2="877.7" y2="714.8" stroke="#2b231b" stroke-width="1.3" />
<line x1="927.3" y1="449.1" x2="927.3" y2="714.8" stroke="#2b231b" stroke-width="1.3" />
<line x1="977.4" y1="449.1" x2="977.4" y2="714.8" stroke="#2b231b" stroke-width="1.3" />
<line x1="1027.7" y1="449.1" x2="1027.7" y2="714.8" stroke="#2b231b" stroke-width="1.3" />
<line x1="1078.5" y1="449.1" x2="1078.5" y2="714.8" stroke="#2b231b" stroke-width="1.3" />
<line x1="1128.5" y1="388.5" x2="1128.5" y2="714.8" stroke="#2b231b" stroke-width="1.3" />
<line x1="1177.3" y1="449.1" x2="1177.3" y2="714.8" stroke="#2b231b" stroke-width="1.3" />
</g>
<text x="120.2" y="433.8" text-anchor="middle" style="font-size:18px;font-weight:normal;letter-spacing:0px" fill="#1f1a14" >ТИП</text>
<text x="247.6" y="441" text-anchor="middle" style="font-size:18px;font-weight:normal;letter-spacing:0px" fill="#1f1a14" >DN1</text>
<text x="299.1" y="441" text-anchor="middle" style="font-size:18px;font-weight:normal;letter-spacing:0px" fill="#1f1a14" >DN2</text>
<text x="276" y="470.5" text-anchor="middle" style="font-size:18px;font-weight:normal;letter-spacing:0px" fill="#1f1a14" >ISO 228</text>
<text x="646.9" y="427.9" text-anchor="middle" style="font-size:18px;font-weight:normal;letter-spacing:0px" fill="#1f1a14" >мм</text>
<text x="1178.2" y="413" text-anchor="middle" style="font-size:16.5px;font-weight:normal;letter-spacing:0px" fill="#1f1a14" >Вес нетто</text>
<text x="1178.7" y="435.4" text-anchor="middle" style="font-size:16px;font-weight:normal;letter-spacing:0px" fill="#1f1a14" >kg</text>
<text x="349.8" y="473.8" text-anchor="middle" style="font-size:17.7px;font-weight:normal;letter-spacing:0px" fill="#1f1a14" >fM</text>
<text x="400.2" y="473.8" text-anchor="middle" style="font-size:17.7px;font-weight:normal;letter-spacing:0px" fill="#1f1a14" >a</text>
<text x="450.6" y="473.8" text-anchor="middle" style="font-size:17.7px;font-weight:normal;letter-spacing:0px" fill="#1f1a14" >w</text>
<text x="501.1" y="473.8" text-anchor="middle" style="font-size:17.7px;font-weight:normal;letter-spacing:0px" fill="#1f1a14" >h1</text>
<text x="551.8" y="473.8" text-anchor="middle" style="font-size:17.7px;font-weight:normal;letter-spacing:0px" fill="#1f1a14" >h2</text>
<text x="601.7" y="473.8" text-anchor="middle" style="font-size:17.7px;font-weight:normal;letter-spacing:0px" fill="#1f1a14" >H</text>
<text x="651.5" y="473.8" text-anchor="middle" style="font-size:17.7px;font-weight:normal;letter-spacing:0px" fill="#1f1a14" >L</text>
<text x="701.8" y="473.8" text-anchor="middle" style="font-size:17.7px;font-weight:normal;letter-spacing:0px" fill="#1f1a14" >m1</text>
<text x="751.7" y="473.8" text-anchor="middle" style="font-size:17.7px;font-weight:normal;letter-spacing:0px" fill="#1f1a14" >m2</text>
<text x="801.5" y="473.8" text-anchor="middle" style="font-size:17.7px;font-weight:normal;letter-spacing:0px" fill="#1f1a14" >m3</text>
<text x="851.8" y="473.8" text-anchor="middle" style="font-size:17.7px;font-weight:normal;letter-spacing:0px" fill="#1f1a14" >n1</text>
<text x="901.7" y="473.8" text-anchor="middle" style="font-size:17.7px;font-weight:normal;letter-spacing:0px" fill="#1f1a14" >n2</text>
<text x="951.5" y="473.8" text-anchor="middle" style="font-size:17.7px;font-weight:normal;letter-spacing:0px" fill="#1f1a14" >b</text>
<text x="1001.8" y="473.8" text-anchor="middle" style="font-size:17.7px;font-weight:normal;letter-spacing:0px" fill="#1f1a14" >s</text>
<text x="1052.3" y="473.8" text-anchor="middle" style="font-size:17.7px;font-weight:normal;letter-spacing:0px" fill="#1f1a14" >g1</text>
<text x="1102.7" y="473.8" text-anchor="middle" style="font-size:17.7px;font-weight:normal;letter-spacing:0px" fill="#1f1a14" >w1</text>
<g transform="translate(1152.6,473.8) scale(0.85,1)"><text x="0" y="0" text-anchor="middle" style="font-size:18px;font-weight:normal;letter-spacing:0px" fill="#1f1a14" >NGX</text></g>
<g transform="translate(1203.5,473.8) scale(0.8,1)"><text x="0" y="0" text-anchor="middle" style="font-size:18px;font-weight:normal;letter-spacing:0px" fill="#1f1a14" >NGXM</text></g>
<text x="71.2" y="508" text-anchor="start" style="font-size:17.6px;font-weight:bold;letter-spacing:0.6px" fill="#1f1a14" >NGX 2/80</text>
<text x="71.2" y="533.7" text-anchor="start" style="font-size:17.6px;font-weight:bold;letter-spacing:0.6px" fill="#1f1a14" >NGX 3/100</text>
<text x="71.2" y="558.9" text-anchor="start" style="font-size:17.6px;font-weight:bold;letter-spacing:0.6px" fill="#1f1a14" >NGX 4/110</text>
<text x="71.2" y="591.9" text-anchor="start" style="font-size:17.6px;font-weight:bold;letter-spacing:0.6px" fill="#1f1a14" >NGX 4/16</text>
<text x="71.2" y="618.1" text-anchor="start" style="font-size:17.6px;font-weight:bold;letter-spacing:0.6px" fill="#1f1a14" >NGX 4/18</text>
<text x="71.2" y="643.7" text-anchor="start" style="font-size:17.6px;font-weight:bold;letter-spacing:0.6px" fill="#1f1a14" >NGX 4/22</text>
<text x="71.2" y="675.9" text-anchor="start" style="font-size:17.6px;font-weight:bold;letter-spacing:0.6px" fill="#1f1a14" >NGX 6/18/A</text>
<text x="71.2" y="701.5" text-anchor="start" style="font-size:17.6px;font-weight:bold;letter-spacing:0.6px" fill="#1f1a14" >NGX 6/22/A</text>
<text x="244.9" y="534.8" text-anchor="middle" style="font-size:17.6px;font-weight:normal;letter-spacing:1.2px" fill="#1f1a14" >G 1</text>
<text x="297.6" y="534.8" text-anchor="middle" style="font-size:17.6px;font-weight:normal;letter-spacing:1.2px" fill="#1f1a14" >G 1</text>
<text x="349.9" y="509.0" text-anchor="middle" style="font-size:17.6px;font-weight:normal;letter-spacing:1.2px" fill="#1f1a14" >362</text>
<text x="349.9" y="534.6" text-anchor="middle" style="font-size:17.6px;font-weight:normal;letter-spacing:1.2px" fill="#1f1a14" >391</text>
<text x="349.9" y="558.4" text-anchor="middle" style="font-size:17.6px;font-weight:normal;letter-spacing:1.2px" fill="#1f1a14" >391</text>
<text x="400.3" y="534.8" text-anchor="middle" style="font-size:17.6px;font-weight:normal;letter-spacing:1.2px" fill="#1f1a14" >115</text>
<text x="450.7" y="534.8" text-anchor="middle" style="font-size:17.6px;font-weight:normal;letter-spacing:1.2px" fill="#1f1a14" >95</text>
<text x="501.2" y="534.8" text-anchor="middle" style="font-size:17.6px;font-weight:normal;letter-spacing:1.2px" fill="#1f1a14" >116</text>
<text x="551.8" y="534.8" text-anchor="middle" style="font-size:17.6px;font-weight:normal;letter-spacing:1.2px" fill="#1f1a14" >61</text>
<text x="601.8" y="509.0" text-anchor="middle" style="font-size:17.6px;font-weight:normal;letter-spacing:1.2px" fill="#1f1a14" >176</text>
<text x="601.8" y="534.6" text-anchor="middle" style="font-size:17.6px;font-weight:normal;letter-spacing:1.2px" fill="#1f1a14" >192</text>
<text x="601.8" y="558.4" text-anchor="middle" style="font-size:17.6px;font-weight:normal;letter-spacing:1.2px" fill="#1f1a14" >192</text>
<text x="651.6" y="534.8" text-anchor="middle" style="font-size:17.6px;font-weight:normal;letter-spacing:1.2px" fill="#1f1a14" >161</text>
<text x="701.8" y="534.8" text-anchor="middle" style="font-size:17.6px;font-weight:normal;letter-spacing:1.2px" fill="#1f1a14" >33</text>
<text x="751.8" y="534.8" text-anchor="middle" style="font-size:17.6px;font-weight:normal;letter-spacing:1.2px" fill="#1f1a14" >25</text>
<text x="801.6" y="534.8" text-anchor="middle" style="font-size:17.6px;font-weight:normal;letter-spacing:1.2px" fill="#1f1a14" >8</text>
<text x="851.8" y="534.8" text-anchor="middle" style="font-size:17.6px;font-weight:normal;letter-spacing:1.2px" fill="#1f1a14" >146</text>
<text x="901.8" y="534.8" text-anchor="middle" style="font-size:17.6px;font-weight:normal;letter-spacing:1.2px" fill="#1f1a14" >112</text>
<text x="951.6" y="534.8" text-anchor="middle" style="font-size:17.6px;font-weight:normal;letter-spacing:1.2px" fill="#1f1a14" >30</text>
<text x="1001.8" y="534.8" text-anchor="middle" style="font-size:17.6px;font-weight:normal;letter-spacing:1.2px" fill="#1f1a14" >9</text>
<text x="1052.4" y="534.8" text-anchor="middle" style="font-size:17.6px;font-weight:normal;letter-spacing:1.2px" fill="#1f1a14" >10</text>
<text x="1102.8" y="509.0" text-anchor="middle" style="font-size:17.6px;font-weight:normal;letter-spacing:1.2px" fill="#1f1a14" >102</text>
<text x="1102.8" y="534.6" text-anchor="middle" style="font-size:17.6px;font-weight:normal;letter-spacing:1.2px" fill="#1f1a14" >112</text>
<text x="1102.8" y="558.4" text-anchor="middle" style="font-size:17.6px;font-weight:normal;letter-spacing:1.2px" fill="#1f1a14" >112</text>
<text x="1152.2" y="509.0" text-anchor="middle" style="font-size:17.6px;font-weight:normal;letter-spacing:1.2px" fill="#1f1a14" >6,9</text>
<text x="1152.2" y="534.6" text-anchor="middle" style="font-size:17.6px;font-weight:normal;letter-spacing:1.2px" fill="#1f1a14" >8,3</text>
<text x="1152.2" y="558.4" text-anchor="middle" style="font-size:17.6px;font-weight:normal;letter-spacing:1.2px" fill="#1f1a14" >10,2</text>
<text x="1203.3" y="509.0" text-anchor="middle" style="font-size:17.6px;font-weight:normal;letter-spacing:1.2px" fill="#1f1a14" >7,1</text>
<text x="1203.3" y="534.6" text-anchor="middle" style="font-size:17.6px;font-weight:normal;letter-spacing:1.2px" fill="#1f1a14" >9,2</text>
<text x="1203.3" y="558.4" text-anchor="middle" style="font-size:17.6px;font-weight:normal;letter-spacing:1.2px" fill="#1f1a14" >10,2</text>
<g transform="translate(246.5,616.6) scale(0.78,1)"><text x="0" y="0" text-anchor="middle" style="font-size:17.6px;font-weight:normal;letter-spacing:0.6px" fill="#1f1a14" >G 1 1/4</text></g>
<text x="297.6" y="616.6" text-anchor="middle" style="font-size:17.6px;font-weight:normal;letter-spacing:1.2px" fill="#1f1a14" >G 1</text>
<text x="349.9" y="616.6" text-anchor="middle" style="font-size:17.6px;font-weight:normal;letter-spacing:1.2px" fill="#1f1a14" >462</text>
<text x="400.3" y="616.6" text-anchor="middle" style="font-size:17.6px;font-weight:normal;letter-spacing:1.2px" fill="#1f1a14" >140</text>
<text x="450.7" y="616.6" text-anchor="middle" style="font-size:17.6px;font-weight:normal;letter-spacing:1.2px" fill="#1f1a14" >113</text>
<text x="501.2" y="616.6" text-anchor="middle" style="font-size:17.6px;font-weight:normal;letter-spacing:1.2px" fill="#1f1a14" >152</text>
<text x="551.8" y="616.6" text-anchor="middle" style="font-size:17.6px;font-weight:normal;letter-spacing:1.2px" fill="#1f1a14" >68</text>
<text x="601.8" y="616.6" text-anchor="middle" style="font-size:17.6px;font-weight:normal;letter-spacing:1.2px" fill="#1f1a14" >225</text>
<g transform="translate(651.6,616.6) scale(0.86,1)"><text x="0" y="0" text-anchor="middle" style="font-size:17.6px;font-weight:normal;letter-spacing:1.2px" fill="#1f1a14" >213,5</text></g>
<text x="701.8" y="616.6" text-anchor="middle" style="font-size:17.6px;font-weight:normal;letter-spacing:1.2px" fill="#1f1a14" >37,5</text>
<text x="751.8" y="616.6" text-anchor="middle" style="font-size:17.6px;font-weight:normal;letter-spacing:1.2px" fill="#1f1a14" >28</text>
<text x="801.6" y="616.6" text-anchor="middle" style="font-size:17.6px;font-weight:normal;letter-spacing:1.2px" fill="#1f1a14" >9,5</text>
<text x="851.8" y="616.6" text-anchor="middle" style="font-size:17.6px;font-weight:normal;letter-spacing:1.2px" fill="#1f1a14" >185</text>
<text x="901.8" y="616.6" text-anchor="middle" style="font-size:17.6px;font-weight:normal;letter-spacing:1.2px" fill="#1f1a14" >155</text>
<text x="951.6" y="616.6" text-anchor="middle" style="font-size:17.6px;font-weight:normal;letter-spacing:1.2px" fill="#1f1a14" >33</text>
<text x="1001.8" y="616.6" text-anchor="middle" style="font-size:17.6px;font-weight:normal;letter-spacing:1.2px" fill="#1f1a14" >9,5</text>
<text x="1052.4" y="616.6" text-anchor="middle" style="font-size:17.6px;font-weight:normal;letter-spacing:1.2px" fill="#1f1a14" >11</text>
<text x="1102.8" y="616.6" text-anchor="middle" style="font-size:17.6px;font-weight:normal;letter-spacing:1.2px" fill="#1f1a14" >147</text>
<text x="1152.2" y="616.6" text-anchor="middle" style="font-size:17.6px;font-weight:normal;letter-spacing:1.2px" fill="#1f1a14" >14,5</text>
<text x="1203.3" y="616.6" text-anchor="middle" style="font-size:17.6px;font-weight:normal;letter-spacing:1.2px" fill="#1f1a14" >14,8</text>
<g transform="translate(246.5,687.7) scale(0.78,1)"><text x="0" y="0" text-anchor="middle" style="font-size:17.6px;font-weight:normal;letter-spacing:0.6px" fill="#1f1a14" >G 1 1/4</text></g>
<text x="297.6" y="687.7" text-anchor="middle" style="font-size:17.6px;font-weight:normal;letter-spacing:1.2px" fill="#1f1a14" >G 1</text>
<g transform="translate(349.9,687.7) scale(0.9,1)"><text x="0" y="0" text-anchor="middle" style="font-size:17.6px;font-weight:normal;letter-spacing:1.2px" fill="#1f1a14" >488,5</text></g>
<text x="400.3" y="687.7" text-anchor="middle" style="font-size:17.6px;font-weight:normal;letter-spacing:1.2px" fill="#1f1a14" >140</text>
<text x="450.7" y="687.7" text-anchor="middle" style="font-size:17.6px;font-weight:normal;letter-spacing:1.2px" fill="#1f1a14" >113</text>
<text x="501.2" y="687.7" text-anchor="middle" style="font-size:17.6px;font-weight:normal;letter-spacing:1.2px" fill="#1f1a14" >152</text>
<text x="551.8" y="687.7" text-anchor="middle" style="font-size:17.6px;font-weight:normal;letter-spacing:1.2px" fill="#1f1a14" >68</text>
<text x="601.8" y="687.7" text-anchor="middle" style="font-size:17.6px;font-weight:normal;letter-spacing:1.2px" fill="#1f1a14" >240</text>
<g transform="translate(651.6,687.7) scale(0.86,1)"><text x="0" y="0" text-anchor="middle" style="font-size:17.6px;font-weight:normal;letter-spacing:1.2px" fill="#1f1a14" >213,5</text></g>
<text x="701.8" y="687.7" text-anchor="middle" style="font-size:17.6px;font-weight:normal;letter-spacing:1.2px" fill="#1f1a14" >37,5</text>
<text x="751.8" y="687.7" text-anchor="middle" style="font-size:17.6px;font-weight:normal;letter-spacing:1.2px" fill="#1f1a14" >28</text>
<text x="801.6" y="687.7" text-anchor="middle" style="font-size:17.6px;font-weight:normal;letter-spacing:1.2px" fill="#1f1a14" >9,5</text>
<text x="851.8" y="687.7" text-anchor="middle" style="font-size:17.6px;font-weight:normal;letter-spacing:1.2px" fill="#1f1a14" >185</text>
<text x="901.8" y="687.7" text-anchor="middle" style="font-size:17.6px;font-weight:normal;letter-spacing:1.2px" fill="#1f1a14" >155</text>
<text x="951.6" y="687.7" text-anchor="middle" style="font-size:17.6px;font-weight:normal;letter-spacing:1.2px" fill="#1f1a14" >33</text>
<text x="1001.8" y="687.7" text-anchor="middle" style="font-size:17.6px;font-weight:normal;letter-spacing:1.2px" fill="#1f1a14" >9,5</text>
<text x="1052.4" y="687.7" text-anchor="middle" style="font-size:17.6px;font-weight:normal;letter-spacing:1.2px" fill="#1f1a14" >11</text>
<g transform="translate(1102.8,687.7) scale(0.9,1)"><text x="0" y="0" text-anchor="middle" style="font-size:17.6px;font-weight:normal;letter-spacing:1.2px" fill="#1f1a14" >157,5</text></g>
<text x="1152.2" y="687.7" text-anchor="middle" style="font-size:17.6px;font-weight:normal;letter-spacing:1.2px" fill="#1f1a14" >17,8</text>
<text x="1203.3" y="687.7" text-anchor="middle" style="font-size:17.6px;font-weight:normal;letter-spacing:1.2px" fill="#1f1a14" >18,2</text>
</svg>
</body></html>
